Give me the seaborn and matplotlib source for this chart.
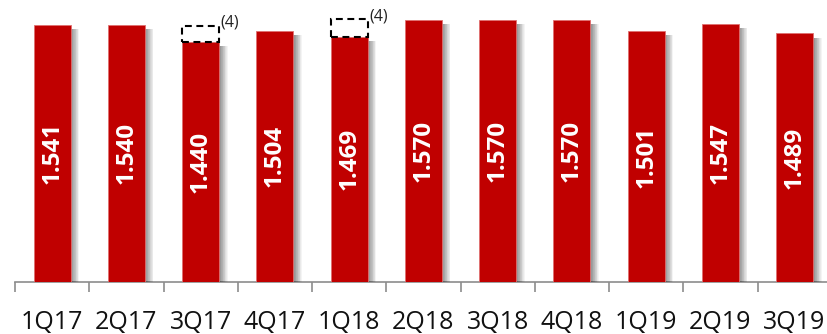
import matplotlib
matplotlib.use("Agg")
import matplotlib.pyplot as plt
import matplotlib.patheffects as pe
from matplotlib.ticker import FixedLocator
import numpy as np
import pandas as pd
import seaborn as sns

# Quarterly values
quarters = ["1Q17", "2Q17", "3Q17", "4Q17", "1Q18", "2Q18",
            "3Q18", "4Q18", "1Q19", "2Q19", "3Q19"]
values = [1.541, 1.540, 1.440, 1.504, 1.469, 1.570,
          1.570, 1.570, 1.501, 1.547, 1.489]

# Adjusted levels shown as dashed outlines (footnote 4)
adjusted_quarters = ["3Q17", "1Q18"]
adjusted_values = [1.535, 1.572]
footnote = "(4)"

sns.set_style("white")
plt.rcParams["font.family"] = ["Open Sans", "DejaVu Sans"]

df = pd.DataFrame({"quarter": quarters, "value": values})

fig = plt.figure(figsize=(8.27, 3.34), dpi=100)
ax = fig.add_axes([15 / 827, 52 / 334, 1 - 15 / 827, 282 / 334])

red = "#C00000"
sns.barplot(data=df, x="quarter", y="value", color=red, saturation=1,
            width=0.5, ax=ax, zorder=3)

# Soft drop shadow to the right of each bar, fading outwards
shadow = [pe.SimplePatchShadow(offset=(0.5 * k, -3), shadow_rgbFace="black", alpha=0.045)
          for k in range(1, 13)]
for patch in ax.patches:
    patch.set_edgecolor("#E07070")
    patch.set_linewidth(0.6)
    patch.set_path_effects(shadow + [pe.Normal()])

# Values written inside the bars
ax.bar_label(ax.containers[0], labels=[f"{v:.3f}" for v in values],
             label_type="center", rotation=90, color="white",
             fontsize=17.5, fontweight="bold", zorder=5)

# Dashed outlines for the adjusted quarters
for q, adj in zip(adjusted_quarters, adjusted_values):
    i = quarters.index(q)
    base = values[i]
    ax.bar(i, adj - base, bottom=base, width=0.5, fill=False,
           edgecolor="black", linewidth=1.5, linestyle=(0, (3.3, 2.2)), zorder=4)
    ax.annotate(footnote, xy=(i + 0.25, adj), xytext=(1.0, 2),
                textcoords="offset points", ha="left", va="center",
                fontsize=11.5, color="#222222", annotation_clip=False)

ax.set_xlim(-0.5, -0.5 + (827 - 15) / 74.25)
ax.set_ylim(0, 282 / 167.0)
ax.set_xlabel("")
ax.set_ylabel("")
ax.set_yticks([])

for side in ["top", "right", "left"]:
    ax.spines[side].set_visible(False)
ax.spines["bottom"].set_color("#8C8C8C")
ax.spines["bottom"].set_linewidth(1.2)

ax.xaxis.set_minor_locator(FixedLocator(np.arange(-0.5, len(quarters), 1.0)))
ax.tick_params(axis="x", which="major", length=0, pad=20, labelsize=18,
               labelcolor="#111111")
ax.tick_params(axis="x", which="minor", length=7, width=1.2, color="#8C8C8C",
               direction="out", bottom=True)

fig.savefig("out.png", dpi=100)
